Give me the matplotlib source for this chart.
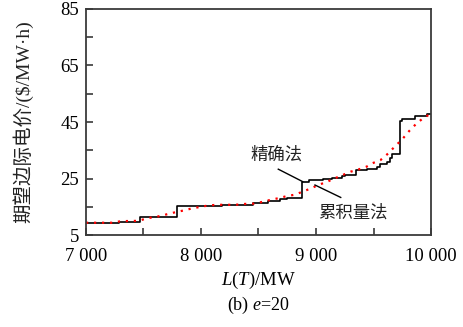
import numpy as np
import matplotlib
matplotlib.use('Agg')
import matplotlib.pyplot as plt
from matplotlib.ticker import FixedLocator, FuncFormatter

plt.rcParams['font.family'] = ['Liberation Serif', 'Noto Sans CJK SC']
plt.rcParams['mathtext.fontset'] = 'custom'
plt.rcParams['mathtext.rm'] = 'Liberation Serif'
plt.rcParams['mathtext.it'] = 'Liberation Serif:italic'

# exact method (step curve)
L_exact = [7000, 7290, 7466, 7795, 8180, 8455, 8585, 8684, 8745, 8878, 8935,
           9064, 9140, 9225, 9250, 9350, 9445, 9530, 9560, 9620, 9645, 9660,
           9730, 9748, 9865, 9963, 10000]
P_exact = [9.35, 9.7, 11.5, 15.1, 15.6, 16.2, 17.0, 17.7, 18.2, 23.9, 24.3,
           24.7, 25.3, 25.9, 26.2, 28.0, 28.4, 28.9, 30.1, 30.7, 32.4, 33.5,
           45.2, 46.0, 47.1, 47.8, 47.8]

# cumulant method (dotted curve)
L_cum = [7000, 7240, 7300, 7430, 7480, 7540, 7620, 7690, 7760, 7850, 7920,
         8000, 8070, 8150, 8300, 8380, 8460, 8530, 8600, 8670, 8750, 8820,
         8880, 8950, 9020, 9100, 9165, 9230, 9300, 9370, 9440, 9490, 9560,
         9620, 9690, 9750, 9810, 9870, 9930, 10000]
P_cum = [9.35, 9.35, 9.9, 10.0, 10.3, 11.0, 11.5, 12.2, 12.9, 13.7, 14.4,
         15.0, 15.5, 15.7, 15.7, 16.0, 16.1, 16.7, 17.4, 18.0, 18.8, 19.3,
         20.3, 21.4, 22.7, 23.9, 25.1, 26.2, 27.4, 28.2, 29.2, 30.4, 31.5,
         33.6, 36.5, 38.9, 41.8, 44.3, 46.3, 48.0]

x_ticks = [7000, 8000, 9000, 10000]
x_minor = [7500, 8500, 9500]
y_ticks = [5, 25, 45, 65, 85]
y_minor = [15, 35, 55, 75]

fig = plt.figure(figsize=(4.64, 3.27), dpi=100)
ax = fig.add_axes([0.1853, 0.2813, 0.7436, 0.6912])

ax.plot(L_exact, P_exact, drawstyle='steps-post', color='black', lw=1.2)
ax.plot(L_cum, P_cum, color='red', lw=1.6, dashes=(1, 2.6))

ax.set_xlim(7000, 10000)
ax.set_ylim(5, 85)

ax.xaxis.set_major_locator(FixedLocator(x_ticks))
ax.xaxis.set_minor_locator(FixedLocator(x_minor))
ax.yaxis.set_major_locator(FixedLocator(y_ticks))
ax.yaxis.set_minor_locator(FixedLocator(y_minor))
ax.xaxis.set_major_formatter(FuncFormatter(lambda v, p: f'{int(v):,}'.replace(',', ' ')))

spine_c = '#3a3a3a'
for s in ax.spines.values():
    s.set_color(spine_c)
    s.set_linewidth(1.3)
ax.tick_params(axis='x', which='both', direction='in', length=5, width=1.2,
               color=spine_c, labelsize=13.5, pad=9)
ax.tick_params(axis='y', which='both', direction='in', length=5, width=1.2,
               color=spine_c, labelsize=13.5, pad=5)

ax.set_ylabel('期望边际电价/($/MW·h)', fontsize=14, color='#222222')
ax.yaxis.set_label_coords(-0.154, 0.5)
ax.set_xlabel('$L$($T$)/MW', fontsize=13.5)
ax.xaxis.set_label_coords(0.5, (235 - 280) / 226)
ax.xaxis.label.set_va('center')

# annotations
ax.plot([8672, 8884], [28.3, 23.9], color='black', lw=1.0)
ax.plot([8991, 9215], [22.7, 18.3], color='black', lw=1.0)
ax.text(8658, 33.3, '精确法', fontsize=12.5, ha='center', va='center', color='#222222')
ax.text(9325, 12.7, '累积量法', fontsize=12.5, ha='center', va='center', color='#222222')

fig.text(0.5568, 1 - 305 / 327, '(b) $e$=20', fontsize=13, ha='center', va='center')

fig.savefig('out.png', dpi=100)
